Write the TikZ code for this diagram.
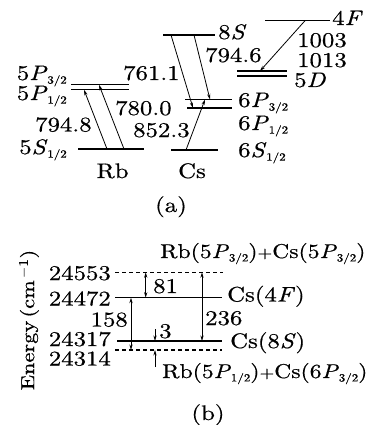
\documentclass[tikz,border=0pt]{standalone}
\usepackage{fontspec}
\setmainfont{lmroman10-regular.otf}[ItalicFont=lmroman10-italic.otf,FakeStretch=1.18,FakeBold=0.6]
\usetikzlibrary{arrows.meta}
\newcommand\sbx[1]{\raisebox{-0.4ex}{\fontsize{11}{11}\selectfont #1}}
\newcommand\lv[3]{#1\textit{#2}\sbx{#3}}
\newcommand\pls{{\fontsize{16}{16}\selectfont+}}
\begin{document}
\begin{tikzpicture}[x=1pt,y=-1pt,
 lbl/.style={inner sep=0pt,font=\fontsize{21}{23}\selectfont},
 lblc/.style={inner sep=0pt,font=\fontsize{20}{22}\selectfont},
 lev/.style={line width=1.3pt},
 tr/.style={line width=0.8pt,-{Stealth[length=5.5pt,width=3.2pt]}},
 dtr/.style={line width=0.8pt,{Stealth[length=5.5pt,width=3.2pt]}-{Stealth[length=5.5pt,width=3.2pt]}},
 dsh/.style={line width=1.2pt,dash pattern=on 4pt off 3pt}]
\useasboundingbox (0,0) rectangle (366,425);
% ---------- panel (a): Rb
\coordinate (rbP3a) at (71,84.8);  \coordinate (rbP3b) at (129,84.8);
\coordinate (rbP1a) at (71,89.8);  \coordinate (rbP1b) at (129,89.8);
\coordinate (rbSa) at (78,149);    \coordinate (rbSb) at (144,149);
\draw[lev] (rbP3a) -- (rbP3b);
\draw[lev] (rbP1a) -- (rbP1b);
\draw[lev] (rbSa) -- (rbSb);
\coordinate (rbS1) at (107,149); \coordinate (rbP1t) at (84,89.8);
\coordinate (rbS2) at (124,149); \coordinate (rbP3t) at (99,84.8);
\draw[tr] (rbS1) -- (rbP1t);
\draw[tr] (rbS2) -- (rbP3t);
\node[lbl,anchor=base east] (lrbP3) at (67,80) {\lv{5}{P}{3/2}};
\node[lbl,anchor=base east] (lrbP1) at (67,100) {\lv{5}{P}{1/2}};
\node[lbl,anchor=base east] (lrbS) at (67,154) {\lv{5}{S}{1/2}};
\node[lbl,anchor=base west] (l7948) at (35,131.5) {794.8};
\node[lbl,anchor=base west] (l7800) at (115,115) {780.0};
\node[lbl,anchor=base] (lRb) at (112.5,178) {Rb};
% ---------- panel (a): Cs
\coordinate (cs8a) at (163,35);   \coordinate (cs8b) at (215,35);
\coordinate (csP3a) at (185,99.5); \coordinate (csP3b) at (232,99.5);
\coordinate (csP1a) at (187,108);  \coordinate (csP1b) at (232,108);
\coordinate (csSa) at (171,150);   \coordinate (csSb) at (218,150);
\coordinate (cs5Da) at (237,71);   \coordinate (cs5Db) at (287,71);
\coordinate (cs5Dc) at (237,76);   \coordinate (cs5Dd) at (287,76);
\coordinate (cs4Fa) at (265,20.7); \coordinate (cs4Fb) at (330,20.7);
\draw[lev] (cs8a) -- (cs8b);
\draw[lev] (csP3a) -- (csP3b);
\draw[lev] (csP1a) -- (csP1b);
\draw[lev] (csSa) -- (csSb);
\draw[lev] (cs5Da) -- (cs5Db);
\draw[lev] (cs5Dc) -- (cs5Dd);
\draw[lev] (cs4Fa) -- (cs4Fb);
\coordinate (c8s1) at (171,35);  \coordinate (cP1t) at (193,108);
\coordinate (c8s2) at (194,35);  \coordinate (cP3t) at (210,99.5);
\coordinate (cSs) at (186,150);  \coordinate (cP3u) at (205,99.5);
\coordinate (c4Fs) at (305,20.7); \coordinate (c5Dt) at (260,71);
\draw[tr] (c8s1) -- (cP1t);
\draw[tr] (c8s2) -- (cP3t);
\draw[tr] (cSs) -- (cP3u);
\draw[tr] (c4Fs) -- (c5Dt);
\node[lbl,anchor=base west] (l7611) at (123,80) {761.1};
\node[lbl,anchor=base west] (l8523) at (133,137) {852.3};
\node[lbl,anchor=base west] (l8S) at (218,39) {8\textit{S}};
\node[lbl,anchor=base west] (l7946) at (205,62) {794.6};
\node[lbl,anchor=base west] (lcsP3) at (238,107) {\lv{6}{P}{3/2}};
\node[lbl,anchor=base west] (lcsP1) at (238,130) {\lv{6}{P}{1/2}};
\node[lbl,anchor=base west] (lcsS) at (238,157) {\lv{6}{S}{1/2}};
\node[lbl,anchor=base] (lCs) at (192,178) {Cs};
\node[lbl,anchor=base west] (l4F) at (332,25) {4\textit{F}};
\node[lbl,anchor=base west] (l1003) at (297,47) {1003};
\node[lbl,anchor=base west] (l1013) at (297,67) {1013};
\node[lbl,anchor=base west] (l5D) at (294,87) {5\textit{D}};
\node[lbl,anchor=base] (la) at (171,212) {(a)};
% ---------- panel (b)
\coordinate (e1a) at (115,272.3); \coordinate (e1b) at (223,272.3);
\coordinate (e2a) at (115,297.7); \coordinate (e2b) at (222,297.7);
\coordinate (e3a) at (117,341);   \coordinate (e3b) at (222,341);
\coordinate (e4a) at (115,350);   \coordinate (e4b) at (222,350);
\draw[dsh] (e1a) -- (e1b);
\draw[lev] (e2a) -- (e2b);
\draw[lev] (e3a) -- (e3b);
\draw[dsh] (e4a) -- (e4b);
\coordinate (a81t) at (145.7,272.3); \coordinate (a81b) at (145.7,297.7);
\coordinate (a158t) at (131,297.7);  \coordinate (a158b) at (131,350);
\coordinate (a236t) at (202,272.3);  \coordinate (a236b) at (202,341);
\coordinate (a3s) at (155,329);      \coordinate (a3t) at (155,341);
\coordinate (a3u) at (155,367);      \coordinate (a3v) at (155,350);
\draw[dtr] (a81t) -- (a81b);
\draw[dtr] (a158t) -- (a158b);
\draw[dtr] (a236t) -- (a236b);
\draw[tr] (a3s) -- (a3t);
\draw[tr] (a3u) -- (a3v);
\node[lbl,anchor=base east] (n1) at (111,280) {24553};
\node[lbl,anchor=base east] (n2) at (111,305.5) {24472};
\node[lbl,anchor=base east] (n3) at (111,346) {24317};
\node[lbl,anchor=base east] (n4) at (111,365.5) {24314};
\node[lbl,anchor=base east] (n158) at (128,326.5) {158};
\node[lbl,anchor=base west] (n81) at (153,293) {81};
\node[lbl,anchor=base west] (n3l) at (159,338) {3};
\node[lbl,anchor=base west] (n236) at (205,325) {236};
\node[lblc,anchor=base west] (t1) at (160,258) {Rb(\lv{5}{P}{3/2})\pls Cs(\lv{5}{P}{3/2})};
\node[lbl,anchor=base west] (t2) at (227,301.5) {Cs(4\textit{F})};
\node[lbl,anchor=base west] (t3) at (230,348) {Cs(8\textit{S})};
\node[lblc,anchor=base west] (t4) at (162,378) {Rb(\lv{5}{P}{1/2})\pls Cs(\lv{6}{P}{3/2})};
\node[lbl,anchor=base] (lb) at (208,420) {(b)};
\node[inner sep=0pt,font=\fontsize{19}{21}\selectfont,rotate=90] (ey) at (29,320) {Energy\,(cm\textsuperscript{\,$-$1})};
\end{tikzpicture}
\end{document}
